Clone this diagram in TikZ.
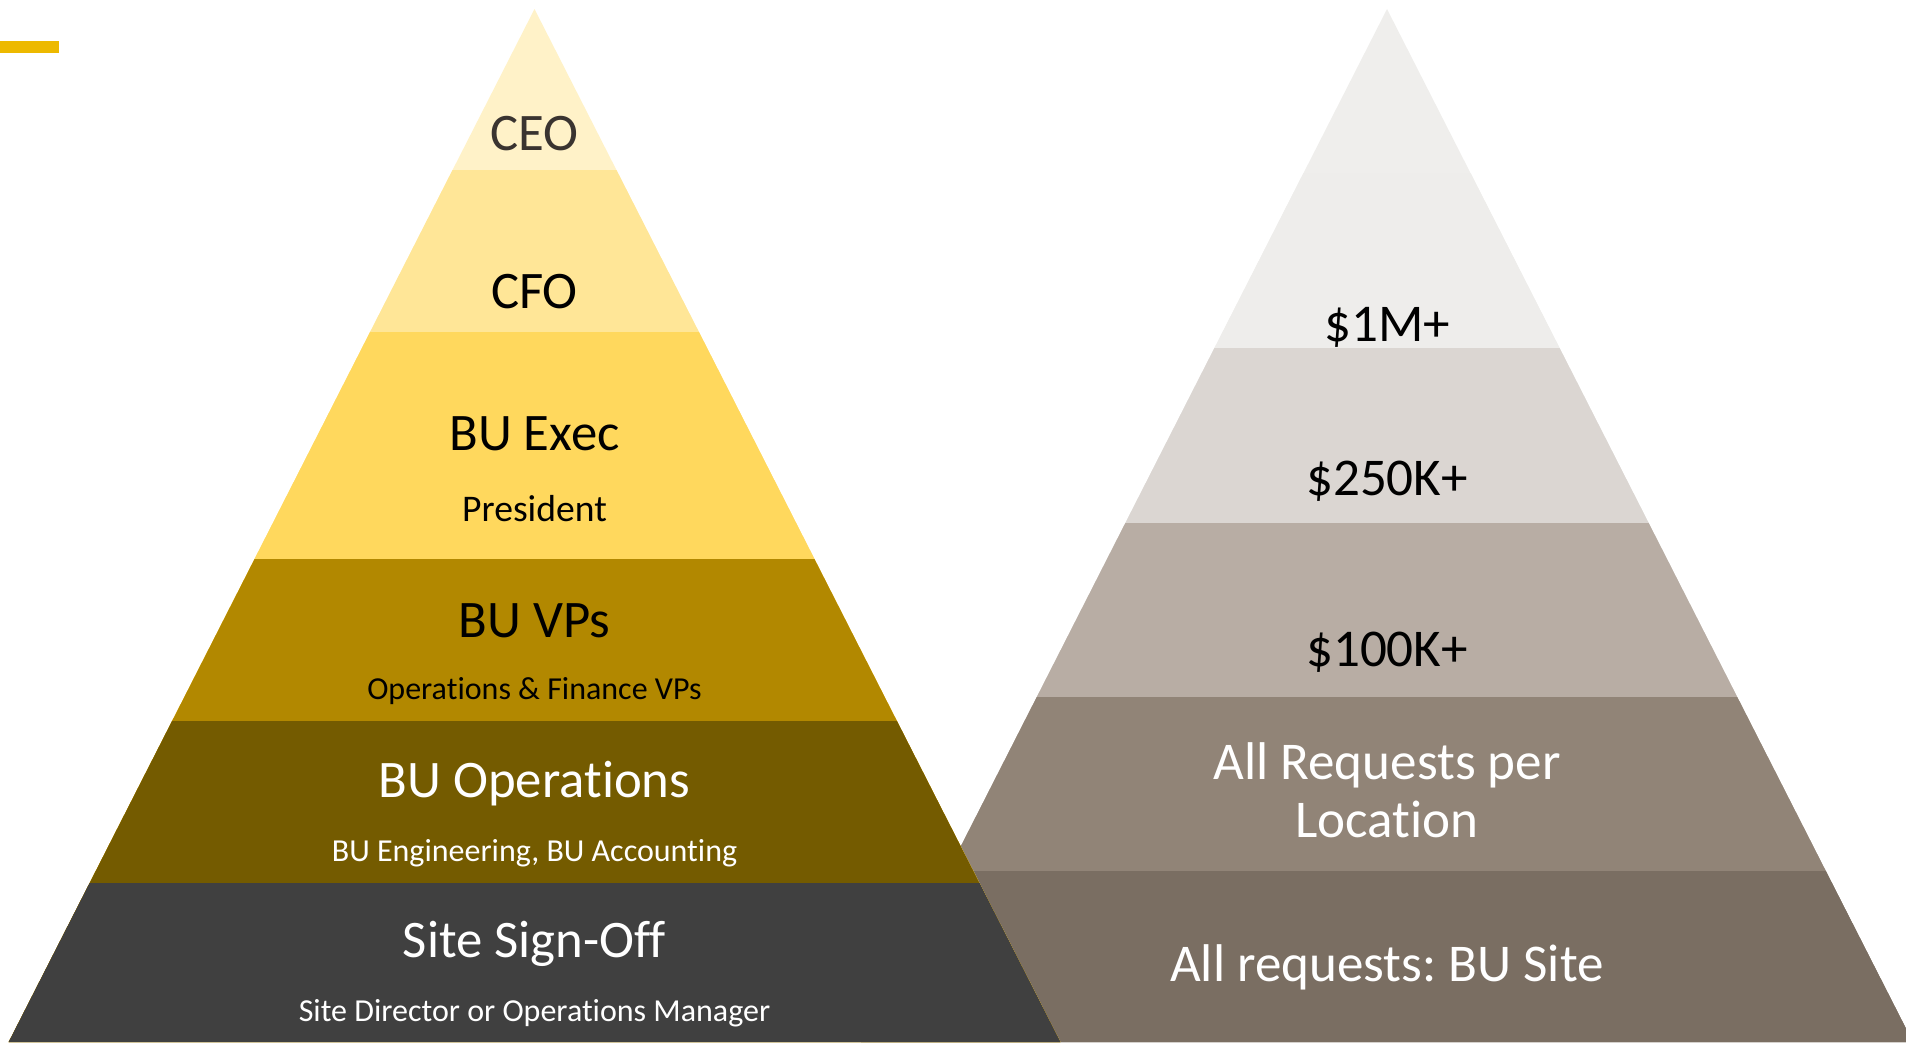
\documentclass[tikz,border=0pt]{standalone}
\usepackage{fontspec}
\setmainfont{Carlito}[Ligatures={NoCommon,NoRequired,NoContextual,NoRare}]
\usetikzlibrary{positioning, calc}
\frenchspacing

\definecolor{goldbar}{HTML}{EDB900}
\definecolor{lvlA}{HTML}{FFF2C8}
\definecolor{lvlB}{HTML}{FFE697}
\definecolor{lvlC}{HTML}{FFD85D}
\definecolor{lvlD}{HTML}{B28800}
\definecolor{lvlE}{HTML}{745B00}
\definecolor{lvlF}{HTML}{404040}
\definecolor{amtA}{HTML}{EFEEEC}
\definecolor{amtB}{HTML}{EEEDEB}
\definecolor{amtC}{HTML}{DBD6D2}
\definecolor{amtD}{HTML}{B8ADA4}
\definecolor{amtE}{HTML}{918477}
\definecolor{amtF}{HTML}{7A6E62}
\definecolor{ceotext}{HTML}{3A3430}

\begin{document}
\begin{tikzpicture}[
        x=0.01cm, y=-0.01cm,
        title/.style={anchor=base, inner sep=0pt, align=center, font=\fontsize{15}{16.3}\selectfont},
        amount/.style={title, font=\fontsize{15.1}{16.3}\selectfont},
        subtitle/.style={anchor=base, inner sep=0pt, font=\fontsize{9.1}{11}\selectfont},
    ]
    \useasboundingbox (0,0) rectangle (1906,1042);
    \clip (0,0) rectangle (1906,1042);

        % Draw the right pyramid, each band from its top down to the base
        \foreach \ytop/\col in {9/amtA, 173/amtB, 348/amtC, 523/amtD, 697/amtE, 871/amtF}
            \fill[\col] ({1387-0.509*(\ytop-9)},\ytop) -- ({1387+0.509*(\ytop-9)},\ytop)
                -- ({1387+0.509*1033},1042) -- ({1387-0.509*1033},1042) -- cycle;

        % Draw the left pyramid over it
        \foreach \ytop/\col in {9/lvlA, 170/lvlB, 332/lvlC, 559/lvlD, 721/lvlE, 883/lvlF}
            \fill[\col] ({534.5-0.509*(\ytop-9)},\ytop) -- ({534.5+0.509*(\ytop-9)},\ytop)
                -- ({534.5+0.509*1033},1042) -- ({534.5-0.509*1033},1042) -- cycle;

        % Gold mark in the corner
        \fill[goldbar] (0,41) rectangle (59,53);

        % Labels of the left pyramid
        \node[title, text=ceotext] (role-1) at (534.5,150) {CEO};
        \node[title] (role-2) at (534.5,308) {CFO};
        \node[title] (role-3) at (534.5,450) {BU Exec};
        \node[subtitle, font=\fontsize{10.7}{12}\selectfont] (sub-3) at (534.5,521) {President};
        \node[title] (role-4) at (534.5,637) {BU VPs};
        \node[subtitle] (sub-4) at (534.5,699) {Operations \& Finance VPs};
        \node[title, text=white] (role-5) at (534.5,797) {BU Operations};
        \node[subtitle, text=white] (sub-5) at (534.5,861) {BU Engineering, BU Accounting};
        \node[title, text=white] (role-6) at (534.5,957) {Site Sign-Off};
        \node[subtitle, text=white] (sub-6) at (534.5,1021) {Site Director or Operations Manager};

        % Labels of the right pyramid
        \node[amount] (amt-1) at (1387,341) {\$1M+};
        \node[amount] (amt-2) at (1387,495) {\$250K+};
        \node[amount] (amt-3) at (1387,666) {\$100K+};
        \node[amount, text=white] (amt-4) at (1387,837) {All Requests per\\Location};
        \node[amount, text=white] (amt-5) at (1387,981) {All requests: BU Site};
\end{tikzpicture}
\end{document}
